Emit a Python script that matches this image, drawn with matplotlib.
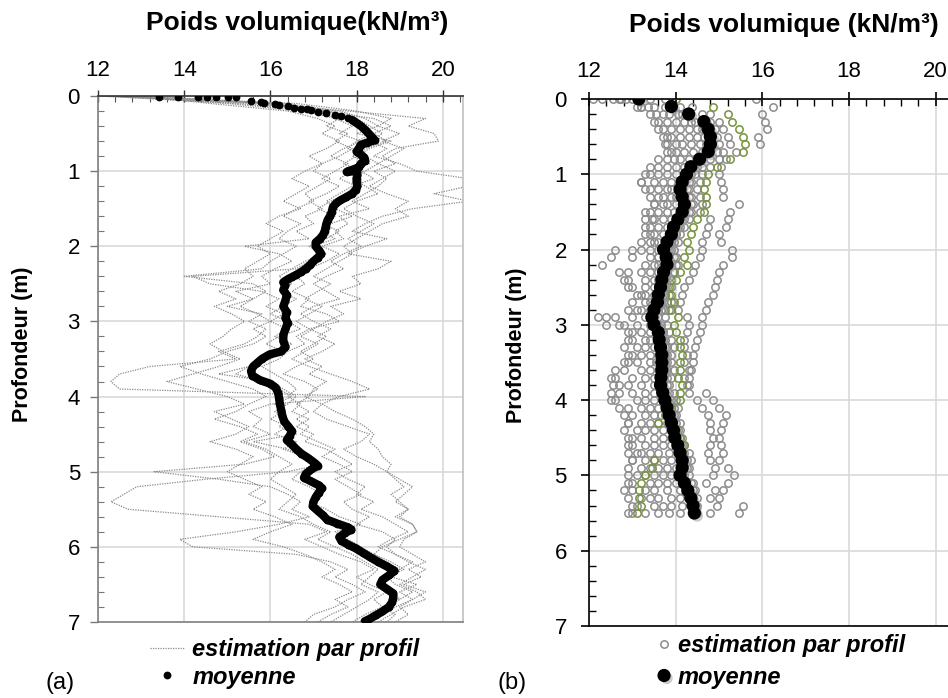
import numpy as np
import matplotlib
matplotlib.use('Agg')
import matplotlib.pyplot as plt
import matplotlib.patheffects as pe
from matplotlib import rcParams
from matplotlib.ticker import MultipleLocator

rcParams['font.family'] = 'sans-serif'
rcParams['font.sans-serif'] = ['Liberation Sans', 'DejaVu Sans']

# ---------------- (a) profils continus, pas de 0.1 m ----------------
prof_a = np.round(np.arange(0, 7.01, 0.1), 1)

profil_a1 = [12.0, 15.5, 17.8, 19.6, 19.2, 19.8, 19.9, 18.9, 18.6, 18.9,
             18.4, 18.7, 18.5, 18.2, 17.9, 18.3, 17.6, 17.8, 17.5, 17.7,
             17.2, 17.6, 17.3, 16.9, 16.6, 16.8, 16.5, 16.9, 16.7, 17.3,
             17.6, 16.9, 16.6, 16.8, 16.4, 16.2, 15.8, 16.1, 16.4, 16.6,
             16.4, 16.7, 16.5, 16.9, 16.6, 17.0, 16.8, 17.3, 17.6, 17.9,
             17.5, 17.8, 18.2, 18.0, 18.4, 18.1, 18.6, 18.9, 19.2, 18.8,
             18.5, 18.9, 19.2, 19.6, 19.3, 19.0, 19.4, 19.6, 19.1, 18.8,
             18.5]
profil_a2 = [12.2, 16.0, 17.4, 18.0, 18.3, 18.6, 18.3, 18.7, 18.4, 19.0,
             19.4, 20.6, 20.6, 19.8, 20.6, 19.3, 18.6, 18.2, 17.9, 18.7,
             18.2, 17.8, 18.8, 18.5, 17.9, 18.1, 17.6, 18.1, 17.4, 17.7,
             17.3, 17.0, 16.7, 17.1, 16.8, 16.5, 16.9, 17.4, 17.9, 18.3,
             17.6, 17.2, 17.0, 17.3, 17.8, 18.3, 18.1, 17.7, 18.0, 18.4,
             18.7, 18.9, 19.1, 18.8, 19.0, 19.2, 18.9, 19.3, 19.4, 19.0,
             18.6, 18.4, 18.8, 19.1, 18.7, 18.9, 19.3, 19.0, 18.6, 18.9,
             18.7]
profil_a3 = [12.4, 15.0, 16.8, 17.5, 17.9, 17.6, 18.1, 17.7, 17.4, 17.8,
             17.5, 17.2, 17.6, 17.3, 16.9, 17.2, 16.8, 17.0, 16.6, 16.9,
             15.4, 16.2, 16.5, 16.1, 15.8, 16.0, 15.2, 15.6, 15.0, 15.8,
             15.5, 15.9, 15.7, 15.4, 14.8, 15.2, 13.2, 12.5, 12.3, 12.5,
             18.2, 16.0, 15.5, 15.8, 15.6, 16.0, 15.4, 15.9, 16.2, 16.5,
             16.2, 16.0, 16.3, 16.6, 16.4, 16.2, 16.7, 17.0, 17.4, 17.1,
             17.5, 17.9, 18.2, 18.5, 18.3, 18.1, 18.5, 18.3, 18.0, 17.7,
             17.4]
profil_a4 = [12.8, 16.3, 17.6, 18.2, 18.5, 18.0, 18.8, 18.3, 18.0, 17.7,
             18.1, 18.4, 17.9, 17.6, 17.3, 17.5, 17.9, 17.4, 17.2, 17.5,
             17.0, 17.3, 16.8, 16.5, 16.2, 16.5, 16.2, 16.6, 16.3, 16.0,
             16.4, 16.7, 16.2, 15.9, 16.3, 16.0, 15.5, 15.2, 15.8, 16.2,
             16.5, 16.1, 16.3, 16.0, 16.4, 16.1, 16.6, 16.3, 16.8, 17.2,
             16.4, 14.5, 12.9, 12.6, 12.3, 12.7, 14.8, 16.9, 17.3, 16.8,
             17.2, 17.6, 18.1, 18.4, 18.0, 18.3, 18.7, 18.4, 18.6, 18.2,
             17.9]
profil_a5 = [13.2, 15.8, 17.0, 17.6, 17.3, 17.8, 17.5, 17.9, 17.6, 17.2,
             17.0, 17.4, 17.1, 16.8, 17.0, 16.6, 16.3, 16.7, 16.4, 16.2,
             16.6, 16.3, 16.0, 15.8, 14.0, 15.6, 15.9, 15.6, 15.3, 15.7,
             16.0, 15.6, 15.9, 15.6, 15.0, 14.6, 13.9, 14.4, 15.0, 15.6,
             15.9, 15.5, 15.2, 14.7, 15.3, 15.7, 15.3, 15.8, 16.1, 15.4,
             13.3, 14.8, 16.0, 16.4, 16.7, 16.5, 16.9, 16.2, 15.2, 13.9,
             14.2, 16.6, 17.4, 17.8, 17.5, 17.9, 18.2, 17.8, 17.5, 17.0,
             16.8]
profil_a6 = [12.6, 16.6, 18.0, 18.8, 18.5, 19.0, 18.6, 19.1, 18.8, 18.5,
             18.9, 18.6, 18.3, 18.7, 19.2, 18.9, 19.2, 18.6, 18.3, 18.0,
             17.7, 17.9, 17.6, 17.3, 17.0, 17.4, 17.1, 16.8, 17.2, 16.9,
             16.6, 16.9, 17.3, 17.0, 16.7, 17.0, 16.6, 16.3, 16.8, 17.1,
             16.8, 17.2, 17.5, 17.9, 18.2, 18.4, 18.3, 18.5, 18.6, 18.8,
             18.7, 19.0, 19.3, 19.1, 18.9, 19.2, 19.0, 19.3, 19.4, 19.1,
             19.0, 19.3, 19.6, 19.2, 19.5, 19.1, 19.6, 19.3, 19.0, 19.2,
             18.9]
profil_a7 = [13.0, 14.6, 16.4, 17.1, 17.5, 17.2, 17.6, 17.3, 16.9, 17.2,
             16.8, 16.5, 16.9, 16.6, 16.3, 16.7, 16.2, 15.9, 16.3, 16.0,
             15.7, 16.0, 15.7, 15.4, 15.6, 15.3, 14.8, 15.2, 14.7, 15.1,
             15.4, 15.1, 14.9, 14.6, 14.9, 15.3, 14.8, 14.2, 13.6, 14.3,
             15.0, 15.4, 14.7, 15.1, 15.5, 15.2, 14.6, 15.2, 15.6, 15.3,
             15.0, 15.4, 15.8, 15.5, 15.9, 15.6, 16.1, 16.5, 16.0, 15.6,
             16.3, 16.8, 17.2, 17.5, 17.2, 17.6, 17.9, 17.5, 17.8, 17.4,
             17.1]
profil_a8 = [12.1, 15.2, 17.2, 18.4, 18.8, 18.4, 18.0, 17.8, 18.2, 18.5,
             18.2, 17.9, 18.2, 18.5, 18.0, 17.7, 18.0, 18.4, 18.1, 17.8,
             18.1, 17.7, 17.4, 17.7, 17.3, 17.0, 17.3, 17.6, 17.0, 16.7,
             17.0, 17.4, 17.1, 17.5, 17.2, 16.8, 17.2, 16.9, 17.3, 17.0,
             16.9, 16.6, 16.9, 16.6, 16.9, 16.7, 17.1, 17.5, 17.2, 17.6,
             17.9, 17.5, 17.8, 18.1, 17.7, 17.9, 18.3, 18.0, 18.6, 18.9,
             18.7, 18.9, 19.3, 19.0, 18.8, 19.4, 19.0, 19.3, 18.9, 18.6,
             18.3]
profil_a9 = [12.3, 16.0, 17.3, 17.9, 18.2, 18.4, 18.7, 18.2, 17.9, 18.3,
             17.9, 17.6, 18.0, 17.8, 17.4, 17.1, 17.5, 17.2, 17.6, 17.3,
             16.9, 17.2, 16.9, 16.6, 14.2, 14.6, 15.8, 16.2, 15.9, 16.3,
             16.0, 16.4, 16.1, 16.5, 16.2, 15.9, 15.5, 14.8, 16.0, 16.3,
             16.6, 16.4, 16.1, 16.4, 16.2, 16.6, 15.6, 16.4, 16.7, 17.1,
             16.7, 16.5, 16.9, 17.2, 16.9, 17.3, 17.6, 18.1, 17.5, 17.8,
             18.1, 18.4, 18.7, 19.0, 18.8, 18.6, 18.9, 19.0, 18.7, 18.5,
             18.2]
profils_a = [profil_a1, profil_a2, profil_a3, profil_a4, profil_a5,
             profil_a6, profil_a7, profil_a8, profil_a9]

# moyenne (a) : profondeur / poids volumique
moy_a_prof = [0.01, 0.01, 0.01, 0.01, 0.02, 0.02, 0.02, 0.07, 0.08, 0.09,
              0.11, 0.12, 0.14, 0.16, 0.17, 0.17, 0.18, 0.21, 0.23, 0.25,
              0.27, 0.29, 0.32, 0.36, 0.40, 0.45, 0.50, 0.55, 0.59, 0.62,
              0.65, 0.70, 0.74, 0.78, 0.82, 0.86, 0.90, 0.95, 1.01, 1.00,
              1.05, 1.10, 1.15, 1.20, 1.25, 1.30, 1.35, 1.39, 1.43, 1.48,
              1.55, 1.60, 1.65, 1.70, 1.75, 1.80, 1.85, 1.90, 1.95, 2.00,
              2.05, 2.10, 2.15, 2.20, 2.25, 2.30, 2.34, 2.38, 2.41, 2.44,
              2.48, 2.52, 2.58, 2.65, 2.72, 2.80, 2.88, 2.95, 3.02, 3.10,
              3.18, 3.26, 3.34, 3.40, 3.44, 3.50, 3.55, 3.60, 3.66, 3.72,
              3.78, 3.83, 3.88, 3.95, 4.02, 4.10, 4.18, 4.26, 4.33, 4.40,
              4.46, 4.52, 4.58, 4.64, 4.70, 4.76, 4.82, 4.88, 4.92, 4.97,
              5.03, 5.08, 5.13, 5.18, 5.22, 5.28, 5.34, 5.40, 5.46, 5.52,
              5.58, 5.64, 5.69, 5.74, 5.77, 5.82, 5.87, 5.92, 5.97, 6.02,
              6.08, 6.14, 6.20, 6.26, 6.32, 6.38, 6.44, 6.50, 6.56, 6.62,
              6.68, 6.74, 6.80, 6.86, 6.91, 6.96, 6.99]
moy_a_val = [13.42, 13.85, 14.33, 14.54, 14.73, 15.02, 15.20, 15.56, 15.78, 15.85,
             16.10, 16.20, 16.40, 16.55, 16.70, 16.85, 16.95, 17.10, 17.30, 17.50,
             17.65, 17.80, 17.90, 18.00, 18.10, 18.20, 18.28, 18.36, 18.42, 18.25,
             18.10, 18.05, 18.00, 18.10, 18.18, 18.20, 18.10, 18.05, 17.77, 18.00,
             18.02, 18.00, 18.00, 18.02, 17.98, 17.90, 17.75, 17.62, 17.52, 17.45,
             17.42, 17.38, 17.33, 17.30, 17.28, 17.26, 17.22, 17.15, 17.05, 17.05,
             17.12, 17.18, 17.10, 17.00, 16.92, 16.82, 16.72, 16.60, 16.50, 16.40,
             16.30, 16.35, 16.30, 16.38, 16.35, 16.30, 16.38, 16.35, 16.40, 16.35,
             16.30, 16.30, 16.35, 16.25, 15.98, 15.80, 15.70, 15.60, 15.55, 15.58,
             15.75, 16.00, 16.12, 16.18, 16.20, 16.22, 16.25, 16.28, 16.32, 16.42,
             16.50, 16.45, 16.38, 16.50, 16.60, 16.72, 16.88, 17.02, 17.10, 16.95,
             16.82, 16.78, 16.95, 17.12, 17.20, 17.12, 17.05, 17.00, 16.98, 17.10,
             17.22, 17.32, 17.55, 17.80, 17.88, 17.72, 17.60, 17.65, 17.80, 17.98,
             18.15, 18.32, 18.50, 18.70, 18.88, 18.75, 18.60, 18.55, 18.70, 18.85,
             18.85, 18.82, 18.75, 18.60, 18.45, 18.30, 18.19]

# ---------------- (b) profils discrets, pas de 0.1 m ----------------
prof_b = np.round(np.arange(0, 5.51, 0.1), 1)

profil_b1 = [12.1, 13.1, 13.4, 13.5, 13.6, 13.8, 13.8, 13.9, 13.8, 13.6,
             13.4, 13.2, 13.4, 13.6, 13.5, 13.3, 13.3, 13.4, 13.3, 13.2,
             12.6, 12.5, 12.3, 12.7, 12.8, 12.9, 13.1, 13.0, 12.9, 12.2,
             12.4, 12.9, 13.0, 13.1, 13.0, 12.9, 12.8, 12.6, 12.7, 12.5,
             12.6, 12.9, 13.0, 12.9, 13.1, 13.0, 12.9, 13.1, 13.0, 13.2,
             12.9, 13.0, 12.8, 13.2, 13.1, 13.0]
profil_b2 = [12.3, 13.35, 13.7, 13.8, 13.9, 13.9, 14.0, 14.0, 13.95, 13.8,
             13.6, 13.5, 13.6, 13.7, 13.7, 13.6, 13.5, 13.6, 13.5, 13.4,
             13.0, 13.0, 13.3, 13.2, 13.3, 13.3, 13.3, 13.4, 13.2, 12.6,
             12.8, 13.2, 13.3, 13.3, 13.2, 13.1, 13.2, 13.0, 12.9, 13.0,
             13.1, 13.2, 13.3, 13.2, 13.3, 13.2, 13.3, 13.2, 13.3, 13.4,
             13.3, 13.4, 13.3, 13.4, 13.5, 13.3]
profil_b3 = [12.55, 13.5, 13.85, 14.0, 14.1, 14.1, 14.15, 14.2, 14.1, 14.0,
             13.8, 13.7, 13.8, 13.9, 13.8, 13.8, 13.7, 13.8, 13.7, 13.6,
             13.4, 13.4, 13.5, 13.4, 13.5, 13.5, 13.5, 13.5, 13.4, 13.0,
             13.1, 13.4, 13.4, 13.5, 13.4, 13.4, 13.4, 13.3, 13.2, 13.3,
             13.3, 13.4, 13.5, 13.4, 13.5, 13.5, 13.5, 13.4, 13.5, 13.6,
             13.5, 13.6, 13.5, 13.6, 13.7, 13.6]
profil_b4 = [12.75, 13.75, 14.05, 14.2, 14.3, 14.3, 14.35, 14.4, 14.3, 14.2,
             14.0, 13.9, 13.9, 14.0, 14.0, 13.95, 13.9, 13.9, 13.85, 13.8,
             13.6, 13.6, 13.7, 13.6, 13.6, 13.6, 13.6, 13.65, 13.6, 13.3,
             13.4, 13.55, 13.6, 13.6, 13.6, 13.55, 13.6, 13.5, 13.5, 13.5,
             13.5, 13.6, 13.65, 13.6, 13.7, 13.7, 13.7, 13.6, 13.7, 13.8,
             13.7, 13.8, 13.8, 13.9, 13.9, 13.85]
profil_b5 = [13.4, 14.1, 14.3, 14.45, 14.5, 14.5, 14.55, 14.6, 14.5, 14.4,
             14.2, 14.1, 14.1, 14.15, 14.2, 14.1, 14.05, 14.05, 14.0, 13.95,
             13.85, 13.8, 13.85, 13.8, 13.75, 13.75, 13.75, 13.8, 13.75, 13.5,
             13.6, 13.7, 13.75, 13.8, 13.8, 13.75, 13.75, 13.7, 13.7, 13.75,
             13.8, 13.8, 13.85, 13.8, 13.9, 13.9, 13.9, 13.85, 13.9, 14.0,
             13.9, 14.0, 14.1, 14.1, 14.15, 14.1]
profil_b6 = [13.75, 14.37, 14.6, 14.8, 14.9, 14.95, 15.0, 14.95, 14.8, 14.6,
             14.45, 14.35, 14.3, 14.35, 14.4, 14.35, 14.3, 14.2, 14.1, 14.05,
             13.95, 13.95, 14.0, 13.95, 13.9, 13.9, 13.85, 13.9, 13.85, 13.75,
             13.8, 13.85, 13.9, 13.95, 13.9, 13.9, 13.95, 13.9, 13.85, 13.95,
             14.0, 14.05, 14.0, 14.1, 14.1, 14.15, 14.2, 14.3, 14.35, 14.3,
             14.2, 14.4, 14.45, 14.5, 14.5, 14.45]
profil_b7 = [15.85, 16.25, 16.0, 16.05, 16.1, 15.9, 15.95, 15.4, 15.15, 15.05,
             15.0, 15.05, 15.1, 15.1, 15.45, 15.25, 15.2, 15.15, 15.0, 15.05,
             15.3, 15.3, 15.1, 15.0, 14.95, 14.9, 14.85, 14.75, 14.7, 14.6,
             14.6, 14.55, 14.5, 14.45, 14.4, 14.4, 14.35, 14.3, 14.3, 14.7,
             14.85, 15.0, 15.15, 15.1, 15.05, 15.0, 15.05, 15.1, 15.0, 15.2,
             15.35, 15.2, 15.1, 15.0, 15.55, 15.45]
profil_b8 = [12.7, 13.2, 14.8, 15.0, 15.1, 15.2, 15.25, 15.1, 15.0, 14.8,
             14.6, 14.55, 14.5, 14.55, 14.6, 14.55, 14.8, 14.75, 14.7, 14.6,
             14.6, 14.55, 14.45, 14.4, 14.3, 14.2, 14.15, 14.1, 14.05, 14.25,
             14.3, 14.25, 14.2, 14.2, 14.25, 14.2, 14.3, 14.2, 14.25, 14.3,
             14.5, 14.6, 14.75, 14.8, 14.8, 14.85, 14.8, 14.75, 14.8, 14.9,
             14.85, 14.7, 14.9, 14.8, 14.95, 14.8]
profil_b9 = [12.85, 13.2, 13.55, 13.6, 13.7, 13.7, 13.75, 13.8, 13.6, 13.4,
             13.3, 13.2, 13.3, 13.4, 13.5, 13.4, 13.45, 13.3, 13.4, 13.5,
             13.2, 13.6, 13.6, 12.9, 12.9, 13.0, 13.2, 13.3, 13.1, 12.4,
             12.7, 13.0, 12.9, 12.8, 12.9, 12.8, 12.6, 12.5, 12.55, 12.7,
             12.5, 12.7, 12.8, 12.9, 12.8, 12.9, 13.0, 12.9, 13.0, 12.9,
             13.1, 12.9, 13.0, 12.9, 13.0, 12.9]
profil_b10 = [13.0, 13.85, 14.15, 14.35, 14.6, 14.65, 14.7, 14.7, 14.6, 14.5,
              14.35, 14.3, 14.25, 14.3, 14.35, 14.3, 14.2, 14.1, 14.0, 13.9,
              13.9, 14.0, 14.05, 13.95, 13.8, 13.8, 13.75, 13.7, 13.65, 13.6,
              13.65, 13.7, 13.7, 13.75, 13.75, 13.8, 13.8, 13.8, 13.8, 13.85,
              13.9, 13.95, 13.95, 14.0, 14.05, 14.1, 14.15, 14.2, 14.25, 14.25,
              14.3, 14.35, 14.4, 14.4, 14.45, 14.5]
profils_b = [profil_b1, profil_b2, profil_b3, profil_b4, profil_b5,
             profil_b6, profil_b7, profil_b8, profil_b9, profil_b10]

profil_b_vert = [14.0, 14.85, 15.2, 15.3, 15.45, 15.55, 15.6, 15.55, 15.25, 14.95,
                 14.75, 14.7, 14.65, 14.7, 14.7, 14.65, 14.5, 14.4, 14.35, 14.25,
                 14.3, 14.2, 14.25, 14.1, 14.0, 13.85, 13.9, 13.95, 13.9, 14.05,
                 13.95, 14.0, 14.1, 14.1, 14.15, 14.1, 14.1, 14.05, 14.15, 14.1,
                 14.1, 13.9, 13.75, 13.6, 14.0, 14.1, 14.2, 14.1, 13.5, 13.45,
                 13.3, 13.2, 13.15, 13.15, 13.2, 13.1]

moy_b = [13.15, 13.9, 14.3, 14.65, 14.75, 14.8, 14.8, 14.75, 14.55, 14.35,
         14.25, 14.15, 14.1, 14.15, 14.2, 14.15, 14.05, 13.95, 13.9, 13.8,
         13.72, 13.78, 13.8, 13.72, 13.68, 13.65, 13.6, 13.58, 13.5, 13.45,
         13.5, 13.6, 13.62, 13.65, 13.68, 13.68, 13.68, 13.66, 13.65, 13.7,
         13.75, 13.8, 13.85, 13.9, 13.95, 13.98, 14.05, 14.1, 14.15, 14.15,
         14.1, 14.2, 14.28, 14.35, 14.4, 14.43]

titre_x = 'Poids volumique'
label_y = 'Profondeur (m)'

fig = plt.figure(figsize=(9.48, 6.98), dpi=100)
ax1 = fig.add_axes([0.1034, 0.1089, 0.3850, 0.7536])
ax2 = fig.add_axes([0.6213, 0.1032, 0.3886, 0.7550])

# ---- panel (a)
lignes = []
for p in profils_a:
    l, = ax1.plot(p, prof_a, color='#8a8a8a', lw=0.9, ls=(0, (1, 1)), zorder=2)
    lignes.append(l)

moy_a_val = np.array(moy_a_val)
moy_a_prof = np.array(moy_a_prof)
sel = moy_a_prof >= 0.3
ax1.plot(moy_a_val[sel], moy_a_prof[sel], color='black', lw=6,
         solid_capstyle='round', solid_joinstyle='round', zorder=3)
pts_a, = ax1.plot(moy_a_val, moy_a_prof, 'o', color='black', ms=4.6, zorder=4)

ax1.set_xlim(12, 20.47)
ax1.set_ylim(7, 0)
ax1.grid(True, which='major', color='#d9d9d9', lw=1.2)
ax1.set_axisbelow(True)
ax1.xaxis.tick_top()
ax1.xaxis.set_major_locator(MultipleLocator(2))
ax1.xaxis.set_minor_locator(MultipleLocator(0.4))
ax1.yaxis.set_major_locator(MultipleLocator(1))
ax1.yaxis.set_minor_locator(MultipleLocator(0.2))
ax1.tick_params(axis='x', which='major', direction='inout', length=8, width=1,
                color='#333333', labelsize=16, pad=7, top=True, bottom=False)
ax1.tick_params(axis='x', which='minor', direction='in', length=4, width=0.8,
                color='#555555', top=True, bottom=False)
ax1.tick_params(axis='y', which='major', direction='out', length=6, width=1,
                color='#777777', labelsize=16, pad=7)
ax1.tick_params(axis='y', which='minor', direction='in', length=4, width=0.8,
                color='#777777')
ax1.spines['top'].set_color('#333333')
ax1.spines['left'].set_color('#808080')
ax1.spines['bottom'].set_color('#808080')
ax1.spines['right'].set_color('#c0c0c0')
for s in ax1.spines.values():
    s.set_linewidth(1.2)

ax1.legend([lignes[0], pts_a], ['estimation par profil', 'moyenne'],
           loc='upper left', bbox_to_anchor=(0.158, 0.086),
           bbox_transform=fig.transFigure, frameon=False,
           prop={'size': 17, 'weight': 'bold', 'style': 'italic'},
           handlelength=1.5, handletextpad=0.3, labelspacing=0.2,
           borderpad=0, borderaxespad=0, numpoints=1)

# ---- panel (b)
for i, p in enumerate(profils_b):
    c, = ax2.plot(p, prof_b, 'o', mfc='none', mec='#8c8c8c', ms=5.3, mew=1.1,
                  zorder=2)
    if i == 0:
        cercle = c
ax2.plot(profil_b_vert, prof_b, 'o', mfc='none', mec='#77933c', ms=5.3, mew=1.1,
         zorder=2)
pts_b, = ax2.plot(moy_b, prof_b, 'o', color='black', ms=8.5, zorder=4,
                  path_effects=[pe.SimplePatchShadow(offset=(2, -2), shadow_rgbFace='0.6',
                                                     alpha=0.5),
                                pe.Normal()])

ax2.set_xlim(12, 20.5)
ax2.set_ylim(7, 0)
ax2.grid(True, which='major', color='#d9d9d9', lw=1.2)
ax2.set_axisbelow(True)
ax2.xaxis.tick_top()
ax2.xaxis.set_major_locator(MultipleLocator(2))
ax2.xaxis.set_minor_locator(MultipleLocator(0.4))
ax2.yaxis.set_major_locator(MultipleLocator(1))
ax2.yaxis.set_minor_locator(MultipleLocator(0.2))
ax2.tick_params(axis='x', which='major', direction='inout', length=10, width=1.2,
                color='black', labelsize=16, pad=7, top=True, bottom=False)
ax2.tick_params(axis='x', which='minor', direction='in', length=5, width=1,
                color='black', top=True, bottom=False)
ax2.tick_params(axis='y', which='major', direction='out', length=6, width=1.2,
                color='black', labelsize=16, pad=10)
ax2.tick_params(axis='y', which='minor', direction='in', length=5, width=1,
                color='black')
for s in ['top', 'left', 'bottom']:
    ax2.spines[s].set_color('black')
    ax2.spines[s].set_linewidth(1.2)
ax2.spines['right'].set_visible(False)

ax2.legend([cercle, pts_b], ['estimation par profil', 'moyenne'],
           loc='upper left', bbox_to_anchor=(0.693, 0.091),
           bbox_transform=fig.transFigure, frameon=False,
           prop={'size': 17, 'weight': 'bold', 'style': 'italic'},
           handlelength=0.6, handletextpad=0.28, labelspacing=0.35,
           borderpad=0, borderaxespad=0, numpoints=1)

# ---- textes
fig.text(0.313, 0.967, titre_x + '(kN/m³)', ha='center', va='center',
         fontsize=19, fontweight='bold')
fig.text(0.827, 0.964, titre_x + ' (kN/m³)', ha='center', va='center',
         fontsize=19, fontweight='bold')
fig.text(0.024, 0.507, label_y, rotation=90, ha='center', va='center',
         fontsize=15.5, fontweight='bold')
fig.text(0.545, 0.506, label_y, rotation=90, ha='center', va='center',
         fontsize=15.5, fontweight='bold')
fig.text(60 / 948, 1 - 683 / 698, '(a)', ha='center', va='center', fontsize=17)
fig.text(512 / 948, 1 - 683 / 698, '(b)', ha='center', va='center', fontsize=17)

fig.savefig('out.png', dpi=100)
